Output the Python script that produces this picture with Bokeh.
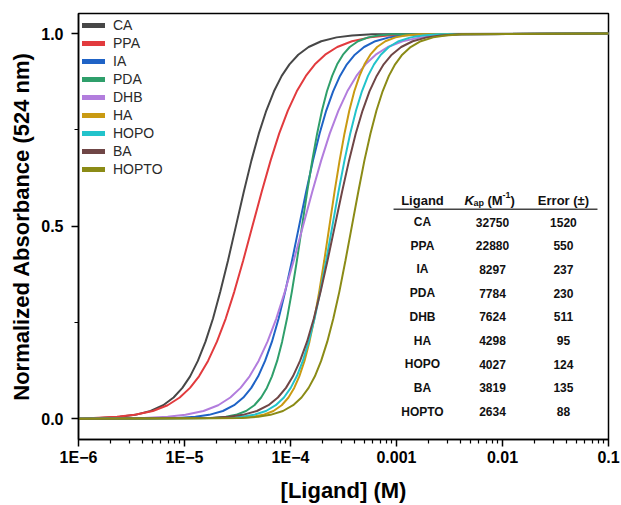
import numpy as np
from bokeh.plotting import figure
from bokeh.models import Range1d, FixedTicker, NumeralTickFormatter, Legend, LegendItem, Label
from bokeh.core.properties import value
from bokeh.embed import file_html
from bokeh.resources import INLINE

FONT = "Liberation Sans"

# ---- table / legend data ----
ligands = ["CA", "PPA", "IA", "PDA", "DHB", "HA", "HOPO", "BA", "HOPTO"]
kap_values = ["32750", "22880", "8297", "7784", "7624", "4298", "4027", "3819", "2634"]
kap_errors = ["1520", "550", "237", "230", "511", "95", "124", "135", "88"]
colors = ["#474747", "#e23b3e", "#1f63c6", "#2f9f6b", "#b27ddd", "#c99a12", "#22c3cb", "#6f4646", "#8b8b16"]

# ---- curves: normalized absorbance levels and log10([Ligand]) read for each curve ----
y_levels = [0.0, 0.002, 0.005, 0.01, 0.02, 0.035, 0.055, 0.08, 0.11, 0.15, 0.2, 0.26, 0.33, 0.41,
            0.5, 0.59, 0.67, 0.74, 0.8, 0.85, 0.89, 0.92, 0.945, 0.965, 0.98, 0.99, 0.995, 0.998, 1.0]

logx_CA = [-6.0, -5.800, -5.610, -5.465, -5.320, -5.201, -5.103, -5.020, -4.947, -4.874, -4.802,
           -4.731, -4.662, -4.590, -4.515, -4.440, -4.369, -4.299, -4.228, -4.156, -4.083, -4.010,
           -3.927, -3.829, -3.710, -3.565, -3.420, -3.230, -1.0]
logx_PPA = [-6.0, -5.858, -5.636, -5.468, -5.298, -5.159, -5.045, -4.948, -4.863, -4.778, -4.694,
            -4.611, -4.530, -4.447, -4.359, -4.271, -4.188, -4.107, -4.025, -3.941, -3.855, -3.770,
            -3.673, -3.559, -3.420, -3.250, -3.082, -2.860, -1.0]
logx_IA = [-6.0, -5.067, -4.897, -4.768, -4.638, -4.532, -4.445, -4.370, -4.305, -4.240, -4.175,
           -4.112, -4.050, -3.986, -3.919, -3.852, -3.788, -3.726, -3.663, -3.598, -3.533, -3.468,
           -3.393, -3.306, -3.200, -3.070, -2.941, -2.771, -1.0]
logx_PDA = [-6.0, -4.734, -4.609, -4.515, -4.419, -4.341, -4.277, -4.223, -4.175, -4.126, -4.079,
            -4.033, -3.987, -3.940, -3.891, -3.842, -3.795, -3.749, -3.703, -3.656, -3.607, -3.560,
            -3.505, -3.441, -3.363, -3.267, -3.173, -3.048, -1.0]
logx_DHB = [-6.0, -5.381, -5.159, -4.991, -4.821, -4.682, -4.568, -4.471, -4.386, -4.301, -4.217,
            -4.134, -4.053, -3.970, -3.882, -3.794, -3.711, -3.630, -3.548, -3.464, -3.378, -3.293,
            -3.196, -3.082, -2.943, -2.773, -2.605, -2.383, -1.0]
logx_HA = [-6.0, -4.476, -4.351, -4.257, -4.161, -4.083, -4.019, -3.965, -3.917, -3.868, -3.821,
           -3.775, -3.729, -3.682, -3.633, -3.584, -3.537, -3.491, -3.445, -3.398, -3.349, -3.302,
           -3.247, -3.183, -3.105, -3.009, -2.915, -2.790, -1.0]
logx_HOPO = [-6.0, -4.604, -4.456, -4.344, -4.231, -4.139, -4.062, -3.998, -3.941, -3.884, -3.828,
             -3.773, -3.719, -3.664, -3.605, -3.547, -3.491, -3.437, -3.382, -3.326, -3.269, -3.212,
             -3.148, -3.072, -2.979, -2.866, -2.754, -2.606, -1.0]
logx_BA = [-6.0, -4.755, -4.582, -4.450, -4.317, -4.208, -4.119, -4.043, -3.977, -3.910, -3.844,
           -3.780, -3.716, -3.651, -3.582, -3.513, -3.448, -3.385, -3.320, -3.255, -3.187, -3.121,
           -3.045, -2.956, -2.847, -2.714, -2.583, -2.409, -1.0]
logx_HOPTO = [-6.0, -4.459, -4.305, -4.189, -4.071, -3.975, -3.896, -3.829, -3.770, -3.711, -3.653,
              -3.596, -3.539, -3.482, -3.421, -3.360, -3.303, -3.246, -3.189, -3.131, -3.072, -3.013,
              -2.946, -2.867, -2.771, -2.654, -2.537, -2.383, -1.0]

curve_logx = [logx_CA, logx_PPA, logx_IA, logx_PDA, logx_DHB, logx_HA, logx_HOPO, logx_BA, logx_HOPTO]

# ---- ticks ----
x_tick_values = [1e-6, 1e-5, 1e-4, 1e-3, 1e-2, 1e-1]
x_tick_labels = ["1E\u22126", "1E\u22125", "1E\u22124", "0.001", "0.01", "0.1"]
y_tick_values = [0.0, 0.5, 1.0]
y_minor_values = [0.25, 0.75]

p = figure(width=621, height=505, x_axis_type="log",
           x_range=Range1d(1e-6, 0.1), y_range=Range1d(-0.054, 1.052),
           output_backend="svg", toolbar_location=None,
           min_border_left=78, min_border_right=13, min_border_top=13, min_border_bottom=66)
p.grid.visible = False
p.outline_line_color = "black"
p.outline_line_width = 1.5
p.background_fill_color = "white"

for lx, c in zip(curve_logx, colors):
    p.line(x=10.0 ** np.array(lx), y=y_levels, line_color=c, line_width=2)

# axes
xa = p.xaxis[0]
xa.ticker = FixedTicker(ticks=x_tick_values,
                        minor_ticks=[m * 10.0 ** e for e in range(-6, -1) for m in range(2, 10)])
xa.major_label_overrides = dict(zip(x_tick_values, x_tick_labels))
xa.axis_label = "[Ligand] (M)"
xa.major_label_standoff = 2
xa.axis_label_standoff = 9

ya = p.yaxis[0]
ya.ticker = FixedTicker(ticks=y_tick_values, minor_ticks=y_minor_values)
ya.formatter = NumeralTickFormatter(format="0.0")
ya.axis_label = "Normalized Absorbance (524 nm)"
ya.major_label_standoff = 8
ya.axis_label_standoff = 4

for ax in (xa, ya):
    ax.axis_line_width = 1.5
    ax.axis_line_color = "black"
    ax.major_tick_line_width = 1.5
    ax.minor_tick_line_width = 1.2
    ax.major_tick_line_color = "black"
    ax.minor_tick_line_color = "black"
    ax.major_tick_in = 0
    ax.major_tick_out = 7
    ax.minor_tick_in = 0
    ax.minor_tick_out = 4
    ax.major_label_text_font = FONT
    ax.major_label_text_font_size = "16px"
    ax.major_label_text_font_style = "bold"
    ax.major_label_text_color = "black"
    ax.axis_label_text_font = FONT
    ax.axis_label_text_font_size = "22px"
    ax.axis_label_text_font_style = "bold"
    ax.axis_label_text_color = "black"

# legend (thick sample lines; one NaN point so nothing is drawn in the frame)
items = []
for name, c in zip(ligands, colors):
    r = p.line(x=[np.nan], y=[np.nan], line_color=c, line_width=5, line_cap="round")
    items.append(LegendItem(label=name, renderers=[r]))
legend = Legend(items=items, location="top_left", margin=4, padding=0, spacing=2,
                glyph_width=23, glyph_height=16, label_height=16, label_standoff=8,
                label_text_font=FONT, label_text_font_size="14px", label_text_color="#2a2a2a",
                border_line_color=None, background_fill_alpha=0)
p.add_layout(legend)

# ---- table inside the plot ----
lig_col = 10 ** -2.755
kap_col = 10 ** -2.094
err_col = 10 ** -1.425
hdr_y = 0.5674
row0_y = 0.5104
row_step = 0.0615
row_y = [row0_y - i * row_step for i in range(len(ligands))]

common = dict(text_font=value(FONT), text_font_style="bold", text_font_size="12px",
              text_align="center", text_baseline="middle", text_color="#111111")
p.text(x=[lig_col] * len(ligands), y=row_y, text=ligands, **common)
p.text(x=[kap_col] * len(ligands), y=row_y, text=kap_values, **common)
p.text(x=[err_col] * len(ligands), y=row_y, text=kap_errors, **common)

hdr = dict(text_font=FONT, text_font_style="bold", text_font_size="13px",
           text_baseline="alphabetic", text_color="#111111")
p.add_layout(Label(x=lig_col, y=hdr_y, text="Ligand", text_align="center", **hdr))
p.add_layout(Label(x=err_col, y=hdr_y, text="Error (\u00b1)", text_align="center", **hdr))
p.add_layout(Label(x=kap_col, y=hdr_y, text="K", text_align="left", x_offset=-28,
                   text_font=FONT, text_font_style="bold italic", text_font_size="13px",
                   text_baseline="alphabetic", text_color="#111111"))
p.add_layout(Label(x=kap_col, y=hdr_y, text="ap", text_align="left", x_offset=-19, y_offset=-3,
                   text_font=FONT, text_font_style="bold", text_font_size="9px",
                   text_baseline="alphabetic", text_color="#111111"))
p.add_layout(Label(x=kap_col, y=hdr_y, text="(M", text_align="left", x_offset=-5, **hdr))
p.add_layout(Label(x=kap_col, y=hdr_y, text="-1", text_align="left", x_offset=10, y_offset=5,
                   text_font=FONT, text_font_style="bold", text_font_size="9px",
                   text_baseline="alphabetic", text_color="#111111"))
p.add_layout(Label(x=kap_col, y=hdr_y, text=")", text_align="left", x_offset=18, **hdr))

rule_x0 = 10 ** -3.028
rule_x1 = 10 ** -1.104
rule_y = 0.544
p.segment(x0=[rule_x0], x1=[rule_x1], y0=[rule_y], y1=[rule_y], line_color="#444444", line_width=1.5)

open("out.html", "w").write(file_html(p, INLINE))
